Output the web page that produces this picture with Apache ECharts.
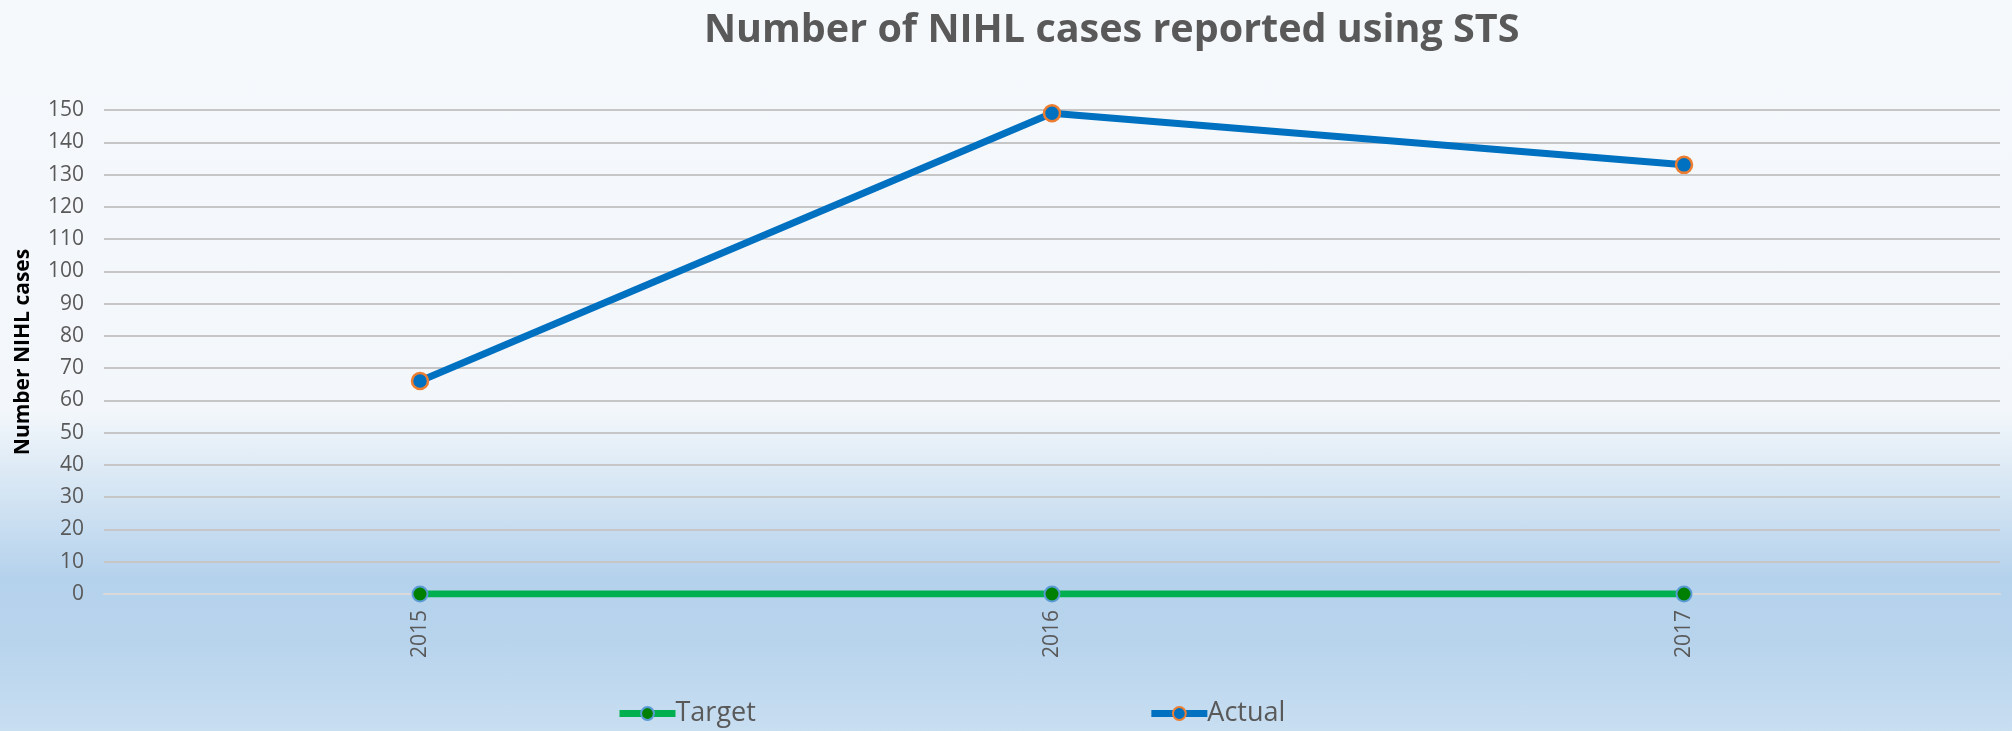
<!DOCTYPE html>
<html>
<head>
<meta charset="utf-8">
<script src="https://cdn.jsdelivr.net/npm/echarts@6/dist/echarts.min.js"></script>
<style>
  html, body { margin: 0; padding: 0; }
  #chart {
    width: 2012px;
    height: 731px;
    background: linear-gradient(to bottom, #f5f9fc 0%, #f3f7fb 56%, #d3e4f3 68%, #b5d2ec 79%, #b8d4ed 88%, #c8def1 100%);
  }
</style>
</head>
<body>
<div id="chart"></div>
<script>
const years = ['2015', '2016', '2017']
const targetValues = [0, 0, 0]
const actualValues = [66, 149, 133]

const chart = echarts.init(document.getElementById('chart'))

const option = {
  animation: false,
  textStyle: { fontFamily: 'Open Sans' },
  title: {
    text: 'Number of NIHL cases reported using STS',
    left: 699,
    top: 6,
    textStyle: {
      fontSize: 39.5,
      fontWeight: 'bold',
      color: '#595959'
    }
  },
  legend: {
    left: 611,
    top: 695,
    itemGap: 392,
    itemWidth: 56,
    itemHeight: 16,
    lineStyle: { width: 7 },
    textStyle: { fontSize: 27, color: '#595959', padding: [0, 0, 0, -5] },
    data: ['Target', 'Actual']
  },
  grid: {
    left: 104,
    right: 12,
    top: 110,
    bottom: 137
  },
  xAxis: {
    type: 'category',
    data: years,
    axisLine: { lineStyle: { color: '#d9d9d9', width: 2 } },
    axisTick: { show: false },
    axisLabel: {
      rotate: 90,
      margin: 16,
      fontSize: 21,
      color: '#595959'
    }
  },
  yAxis: {
    type: 'value',
    min: 0,
    max: 150,
    interval: 10,
    name: 'Number NIHL cases',
    nameLocation: 'middle',
    nameGap: 70,
    nameTextStyle: { fontSize: 21, fontWeight: 'bold', color: '#000000' },
    axisLine: { show: false },
    axisTick: { show: false },
    axisLabel: { fontSize: 21, color: '#595959', margin: 20 },
    splitLine: { lineStyle: { color: '#c6c6c6', width: 2 } }
  },
  series: [
    {
      name: 'Target',
      type: 'line',
      data: targetValues,
      symbol: 'circle',
      symbolSize: 15,
      lineStyle: { color: '#00b050', width: 7 },
      itemStyle: { color: '#008000', borderColor: '#5b9bd5', borderWidth: 2 }
    },
    {
      name: 'Actual',
      type: 'line',
      data: actualValues,
      symbol: 'circle',
      symbolSize: 16,
      lineStyle: { color: '#0070c0', width: 7 },
      itemStyle: { color: '#0070c0', borderColor: '#ed7d31', borderWidth: 2.5 }
    }
  ]
}

chart.setOption(option)
</script>
</body>
</html>
